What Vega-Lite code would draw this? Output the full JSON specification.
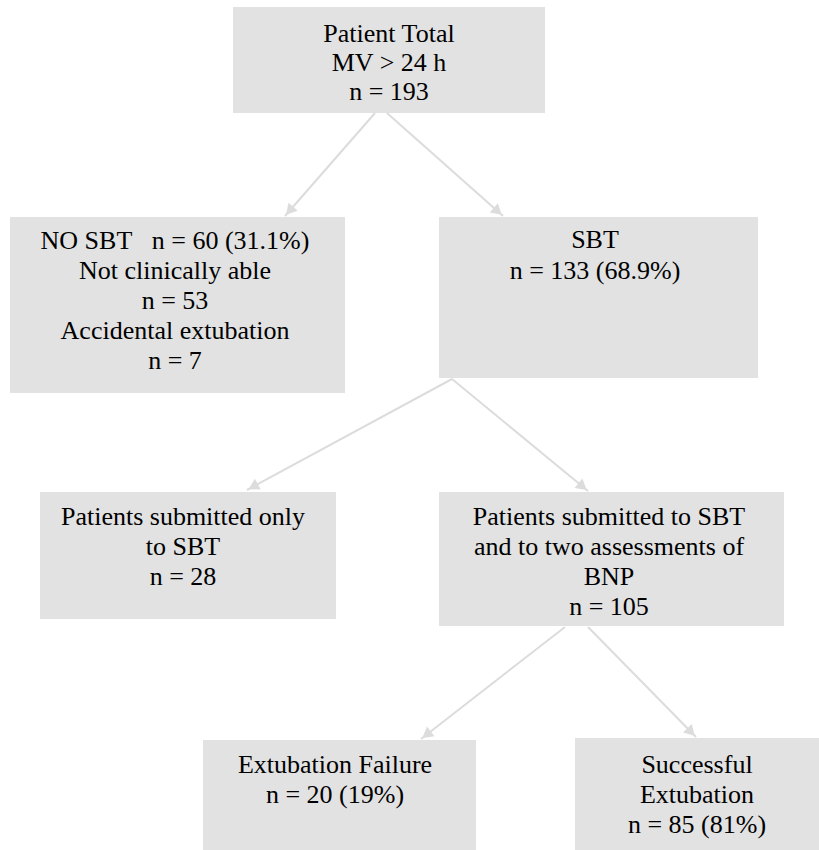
{
  "$schema": "https://vega.github.io/schema/vega-lite/v6.json",
  "width": 819,
  "height": 850,
  "autosize": {"type": "fit", "contains": "padding"},
  "padding": 0,
  "background": "white",
  "config": {"view": {"stroke": null}, "text": {"font": "serif"}},
  "datasets": {
    "boxes": [
      {"box": "Patient Total", "x1": 233, "x2": 545, "y1": 7, "y2": 113},
      {"box": "NO SBT", "x1": 10, "x2": 345, "y1": 217, "y2": 393},
      {"box": "SBT", "x1": 439, "x2": 758, "y1": 217, "y2": 378},
      {"box": "Only SBT", "x1": 40, "x2": 336, "y1": 492, "y2": 619},
      {"box": "SBT and BNP", "x1": 439, "x2": 784, "y1": 492, "y2": 626},
      {"box": "Extubation Failure", "x1": 203, "x2": 476, "y1": 740, "y2": 850},
      {"box": "Successful Extubation", "x1": 575, "x2": 819, "y1": 738, "y2": 850}
    ],
    "arrows": [
      {"from": "Patient Total", "to": "NO SBT", "x1": 375, "y1": 113, "x2": 285, "y2": 216},
      {"from": "Patient Total", "to": "SBT", "x1": 387, "y1": 113, "x2": 503, "y2": 216},
      {"from": "SBT", "to": "Only SBT", "x1": 452, "y1": 379, "x2": 247, "y2": 490},
      {"from": "SBT", "to": "SBT and BNP", "x1": 452, "y1": 379, "x2": 588, "y2": 491},
      {"from": "SBT and BNP", "to": "Extubation Failure", "x1": 565, "y1": 627, "x2": 421, "y2": 739},
      {"from": "SBT and BNP", "to": "Successful Extubation", "x1": 588, "y1": 627, "x2": 696, "y2": 737}
    ],
    "labels": [
      {"x": 389, "y": 34, "text": "Patient Total"},
      {"x": 389, "y": 63, "text": "MV > 24 h"},
      {"x": 389, "y": 92, "text": "n = 193"},
      {"x": 175, "y": 241, "text": "NO SBT\u00a0\u00a0 n = 60 (31.1%)"},
      {"x": 175, "y": 271, "text": "Not clinically able"},
      {"x": 175, "y": 301, "text": "n = 53"},
      {"x": 175, "y": 331, "text": "Accidental extubation"},
      {"x": 175, "y": 361, "text": "n = 7"},
      {"x": 595, "y": 240, "text": "SBT"},
      {"x": 595, "y": 271, "text": "n = 133 (68.9%)"},
      {"x": 183, "y": 517, "text": "Patients submitted only"},
      {"x": 183, "y": 547, "text": "to SBT"},
      {"x": 183, "y": 577, "text": "n = 28"},
      {"x": 609, "y": 517, "text": "Patients submitted to SBT"},
      {"x": 609, "y": 547, "text": "and to two assessments of"},
      {"x": 609, "y": 577, "text": "BNP"},
      {"x": 609, "y": 607, "text": "n = 105"},
      {"x": 335, "y": 765, "text": "Extubation Failure"},
      {"x": 335, "y": 795, "text": "n = 20 (19%)"},
      {"x": 697, "y": 765, "text": "Successful"},
      {"x": 697, "y": 795, "text": "Extubation"},
      {"x": 697, "y": 825, "text": "n = 85 (81%)"}
    ]
  },
  "layer": [
    {
      "data": {"name": "boxes"},
      "mark": {"type": "rect", "color": "#e2e2e2"},
      "encoding": {
        "x": {"field": "x1", "type": "quantitative", "scale": {"domain": [0, 819], "nice": false, "zero": false}, "axis": null},
        "x2": {"field": "x2"},
        "y": {"field": "y1", "type": "quantitative", "scale": {"domain": [0, 850], "nice": false, "zero": false, "reverse": true}, "axis": null},
        "y2": {"field": "y2"}
      }
    },
    {
      "data": {"name": "arrows"},
      "mark": {"type": "rule", "color": "#dcdcdc", "strokeWidth": 2},
      "encoding": {
        "x": {"field": "x1", "type": "quantitative", "scale": {"domain": [0, 819], "nice": false, "zero": false}, "axis": null},
        "x2": {"field": "x2"},
        "y": {"field": "y1", "type": "quantitative", "scale": {"domain": [0, 850], "nice": false, "zero": false, "reverse": true}, "axis": null},
        "y2": {"field": "y2"}
      }
    },
    {
      "data": {"name": "arrows"},
      "transform": [
        {"calculate": "datum.x2 - datum.x1", "as": "dx"},
        {"calculate": "datum.y2 - datum.y1", "as": "dy"},
        {"calculate": "sqrt(datum.dx * datum.dx + datum.dy * datum.dy)", "as": "len"},
        {"calculate": "datum.x2 - 7 * datum.dx / datum.len", "as": "hx"},
        {"calculate": "datum.y2 - 7 * datum.dy / datum.len", "as": "hy"},
        {"calculate": "(atan2(datum.dx, -datum.dy) * 180 / PI + 360) % 360", "as": "ang"}
      ],
      "mark": {"type": "point", "shape": "triangle-up", "filled": true, "size": 150, "color": "#dcdcdc", "opacity": 1},
      "encoding": {
        "x": {"field": "hx", "type": "quantitative", "scale": {"domain": [0, 819], "nice": false, "zero": false}, "axis": null},
        "y": {"field": "hy", "type": "quantitative", "scale": {"domain": [0, 850], "nice": false, "zero": false, "reverse": true}, "axis": null},
        "angle": {"field": "ang", "type": "quantitative", "scale": null}
      }
    },
    {
      "data": {"name": "labels"},
      "mark": {"type": "text", "font": "Liberation Serif", "fontSize": 26, "align": "center", "baseline": "middle", "fill": "#000000"},
      "encoding": {
        "x": {"field": "x", "type": "quantitative", "scale": {"domain": [0, 819], "nice": false, "zero": false}, "axis": null},
        "y": {"field": "y", "type": "quantitative", "scale": {"domain": [0, 850], "nice": false, "zero": false, "reverse": true}, "axis": null},
        "text": {"field": "text"}
      }
    }
  ]
}
